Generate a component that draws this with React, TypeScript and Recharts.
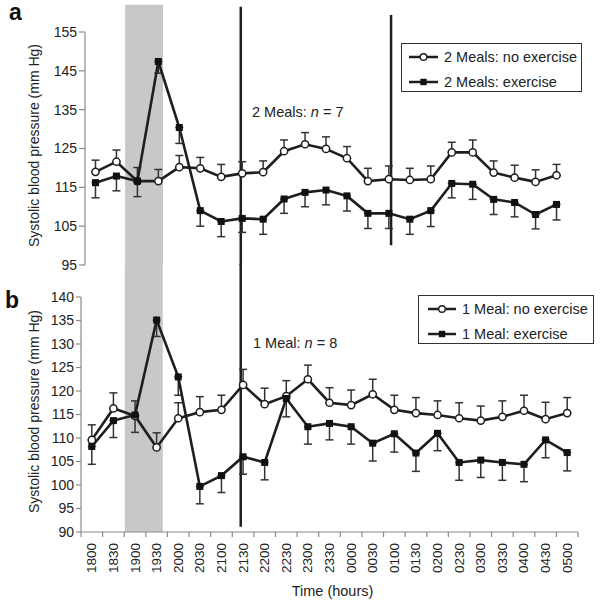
import React from 'react';
import {
  LineChart,
  Line,
  XAxis,
  YAxis,
  ErrorBar,
  ReferenceArea,
  ReferenceLine,
  Legend,
} from 'recharts';

const FONT = '"Liberation Sans", Arial, Helvetica, sans-serif';
const INK = '#1e1e1e';
const AXIS = '#8a8a8a';

const times = [
  '1800', '1830', '1900', '1930', '2000', '2030', '2100', '2130', '2200', '2230', '2300', '2330',
  '0000', '0030', '0100', '0130', '0200', '0230', '0300', '0330', '0400', '0430', '0500',
];

// Panel a: 2 meals
const twoMealsNoEx = [119.0, 121.6, 116.6, 116.6, 120.2, 119.9, 117.7, 118.6, 118.9, 124.3, 126.1, 124.9, 122.5, 116.6, 117.1, 116.9, 117.1, 124.0, 124.0, 118.8, 117.5, 116.4, 118.1];
const twoMealsNoExErr = [3.0, 3.0, 3.5, 3.0, 3.0, 2.8, 3.2, 3.0, 2.9, 2.9, 3.0, 3.1, 3.0, 3.3, 3.4, 3.0, 3.4, 2.6, 3.2, 3.0, 3.2, 3.1, 2.8];
const twoMealsEx = [116.2, 117.9, 116.6, 147.4, 130.4, 109.0, 106.2, 107.0, 106.8, 112.0, 113.7, 114.3, 112.8, 108.3, 108.3, 106.8, 109.0, 116.0, 115.8, 111.9, 111.1, 108.0, 110.6];
const twoMealsExErr = [3.9, 3.8, 4.0, 3.0, 4.1, 4.0, 3.9, 3.6, 3.9, 3.7, 3.7, 3.8, 3.9, 3.9, 3.9, 3.9, 4.1, 3.7, 3.9, 3.9, 3.7, 3.7, 4.0];

// Panel b: 1 meal
const oneMealNoEx = [109.6, 116.3, 114.7, 108.0, 114.2, 115.5, 116.0, 121.3, 117.2, 118.9, 122.5, 117.5, 117.0, 119.3, 116.0, 115.3, 114.9, 114.2, 113.7, 114.5, 115.8, 114.0, 115.3];
const oneMealNoExErr = [3.2, 3.3, 3.2, 3.1, 3.3, 3.3, 3.1, 3.3, 3.4, 3.3, 3.0, 3.2, 3.2, 3.2, 3.1, 3.3, 3.0, 3.3, 3.1, 3.4, 3.3, 3.6, 3.3];
const oneMealEx = [108.2, 113.7, 114.9, 135.1, 123.0, 99.7, 102.0, 106.0, 104.8, 118.4, 112.4, 113.1, 112.4, 108.9, 110.9, 106.8, 111.0, 104.8, 105.3, 104.8, 104.4, 109.6, 106.9];
const oneMealExErr = [3.8, 3.6, 3.7, 3.5, 3.9, 3.7, 3.6, 3.7, 3.7, 3.9, 3.7, 3.5, 3.7, 3.8, 3.9, 3.9, 3.7, 3.8, 3.7, 3.8, 3.7, 3.8, 3.9];

const topTicks = [95, 105, 115, 125, 135, 145, 155];
const bottomTicks = [90, 95, 100, 105, 110, 115, 120, 125, 130, 135, 140];

const topData = times.map((t, i) => ({
  time: t,
  noEx: twoMealsNoEx[i],
  noExErr: [0, twoMealsNoExErr[i]],
  ex: twoMealsEx[i],
  exErr: [twoMealsExErr[i], 0],
}));

const bottomData = times.map((t, i) => ({
  time: t,
  noEx: oneMealNoEx[i],
  noExErr: [0, oneMealNoExErr[i]],
  ex: oneMealEx[i],
  exErr: [oneMealExErr[i], 0],
}));

const squareDot = (p: any) => {
  if (p.cx == null || p.cy == null) return <g key={`sq-${p.index}`} />;
  return (
    <rect key={`sq-${p.index}`} x={p.cx - 3.5} y={p.cy - 3.5} width={7} height={7} fill="#111" />
  );
};

const circleDot = { r: 3.6, fill: '#fff', stroke: INK, strokeWidth: 1.5 };

const yLabel = (props: any) => {
  const vb = props.viewBox || { x: 0, y: 0, width: 0, height: 0 };
  const cx = vb.x + 34;
  const cy = vb.y + vb.height / 2 - 3;
  return (
    <text
      x={cx}
      y={cy}
      transform={`rotate(-90, ${cx}, ${cy})`}
      textAnchor="middle"
      dominantBaseline="central"
      fontFamily={FONT}
      fontSize={14}
      fill="#222"
    >
      Systolic blood pressure (mm Hg)
    </text>
  );
};

const xLabel = (props: any) => {
  const vb = props.viewBox || { x: 0, y: 0, width: 0, height: 0 };
  return (
    <text
      x={vb.x + vb.width / 2 + 3}
      y={vb.y + 59}
      textAnchor="middle"
      dominantBaseline="central"
      fontFamily={FONT}
      fontSize={14.5}
      fill="#222"
    >
      Time (hours)
    </text>
  );
};

const XTick = (props: any) => {
  const { x, y, payload, index, visibleTicksCount } = props;
  const off = payload && typeof payload.offset === 'number' ? payload.offset : 0;
  const ty = y + 11;
  return (
    <g>
      <line x1={x - off} x2={x - off} y1={y} y2={y + 5} stroke={AXIS} strokeWidth={1.2} />
      {index === visibleTicksCount - 1 ? (
        <line x1={x + off} x2={x + off} y1={y} y2={y + 5} stroke={AXIS} strokeWidth={1.2} />
      ) : null}
      <text
        x={x}
        y={ty}
        transform={`rotate(-90, ${x}, ${ty})`}
        textAnchor="end"
        dominantBaseline="central"
        fontFamily={FONT}
        fontSize={13.5}
        fill="#222"
      >
        {payload.value}
      </text>
    </g>
  );
};

const makeLegend = (iconLeft: number, iconWidth: number, gap: number) => (props: any) => {
  const items = [...(props.payload || [])].sort((a: any, b: any) =>
    (a.dataKey === 'noEx' ? 0 : 1) - (b.dataKey === 'noEx' ? 0 : 1),
  );
  return (
    <div
      style={{
        boxSizing: 'border-box',
        width: '100%',
        height: '100%',
        border: `1.5px solid #333`,
        background: '#fff',
        paddingLeft: iconLeft,
        paddingTop: 0,
      }}
    >
      {items.map((item: any, i: number) => (
        <div key={i} style={{ display: 'flex', alignItems: 'center', height: 25 }}>
          <svg width={iconWidth} height={10} style={{ display: 'block' }}>
            <line x1={0} x2={iconWidth} y1={5} y2={5} stroke={INK} strokeWidth={2.5} />
            {item.dataKey === 'noEx' ? (
              <circle cx={iconWidth / 2} cy={5} r={3.3} fill="#fff" stroke={INK} strokeWidth={1.4} />
            ) : (
              <rect x={iconWidth / 2 - 3.2} y={1.8} width={6.4} height={6.4} fill="#111" />
            )}
          </svg>
          <span
            style={{
              marginLeft: gap,
              fontFamily: FONT,
              fontSize: 14.5,
              color: '#222',
              whiteSpace: 'nowrap',
              lineHeight: '16px',
            }}
          >
            {item.value}
          </span>
        </div>
      ))}
    </div>
  );
};

const lineProps = {
  type: 'linear' as const,
  stroke: INK,
  strokeWidth: 2.6,
  isAnimationActive: false,
};

export default function App() {
  return (
    <div style={{ position: 'absolute', left: 0, top: 0, width: 600, height: 600, background: '#fff' }}>
      {/* Panel a */}
      <div style={{ position: 'absolute', left: 0, top: 0 }}>
        <LineChart width={600} height={600} data={topData} margin={{ top: 32, right: 33, bottom: 335, left: 0 }}>
          <XAxis dataKey="time" scale="band" hide />
          <XAxis xAxisId="num" type="number" domain={[0, 22]} allowDataOverflow hide />
          <YAxis
            domain={[95, 155]}
            ticks={topTicks}
            width={85}
            axisLine={{ stroke: AXIS, strokeWidth: 1.2 }}
            tickLine={{ stroke: AXIS, strokeWidth: 1.2 }}
            tickSize={6}
            tickMargin={2}
            tick={{ fill: '#222', fontSize: 14, fontFamily: FONT }}
            label={yLabel}
          />
          <ReferenceArea xAxisId="num" x1={1.83} x2={3.56} y1={95} y2={162} fill="#c8c8c8" fillOpacity={1} stroke="none" ifOverflow="visible" />
          <ReferenceLine xAxisId="num" segment={[{ x: 7.11, y: 161.5 }, { x: 7.11, y: 95 }]} stroke={INK} strokeWidth={2.5} ifOverflow="visible" />
          <ReferenceLine xAxisId="num" segment={[{ x: 13.97, y: 159.4 }, { x: 13.97, y: 100.1 }]} stroke={INK} strokeWidth={2.5} ifOverflow="visible" />
          <Line {...lineProps} dataKey="noEx" name="2 Meals: no exercise" dot={circleDot}>
            <ErrorBar dataKey="noExErr" direction="y" width={4} stroke="#333" strokeWidth={1.5} />
          </Line>
          <Line {...lineProps} dataKey="ex" name="2 Meals: exercise" dot={squareDot}>
            <ErrorBar dataKey="exErr" direction="y" width={4} stroke="#333" strokeWidth={1.5} />
          </Line>
          <Legend
            layout="vertical"
            align="center"
            verticalAlign="middle"
            content={makeLegend(7, 29, 6)}
            wrapperStyle={{ left: 401, top: 43, width: 181, height: 49 }}
          />
        </LineChart>
      </div>

      {/* Panel b */}
      <div style={{ position: 'absolute', left: 0, top: 0 }}>
        <LineChart width={600} height={600} data={bottomData} margin={{ top: 297, right: 22, bottom: 0, left: 0 }}>
          <XAxis
            dataKey="time"
            scale="band"
            height={68}
            interval={0}
            axisLine={{ stroke: AXIS, strokeWidth: 1.2 }}
            tickLine={false}
            tickSize={0}
            tickMargin={0}
            tick={<XTick />}
            label={xLabel}
          />
          <XAxis xAxisId="num" type="number" domain={[0, 22]} allowDataOverflow hide />
          <YAxis
            domain={[90, 140]}
            ticks={bottomTicks}
            width={81}
            interval={0}
            axisLine={{ stroke: AXIS, strokeWidth: 1.2 }}
            tickLine={{ stroke: AXIS, strokeWidth: 1.2 }}
            tickSize={5}
            tickMargin={2}
            tick={{ fill: '#222', fontSize: 14, fontFamily: FONT }}
            label={yLabel}
          />
          <ReferenceArea xAxisId="num" x1={1.94} x2={3.62} y1={90} y2={146.8} fill="#c8c8c8" fillOpacity={1} stroke="none" ifOverflow="visible" />
          <ReferenceLine xAxisId="num" segment={[{ x: 7.07, y: 147 }, { x: 7.07, y: 91.1 }]} stroke={INK} strokeWidth={2.5} ifOverflow="visible" />
          <Line {...lineProps} dataKey="noEx" name="1 Meal: no exercise" dot={circleDot}>
            <ErrorBar dataKey="noExErr" direction="y" width={4} stroke="#333" strokeWidth={1.5} />
          </Line>
          <Line {...lineProps} dataKey="ex" name="1 Meal: exercise" dot={squareDot}>
            <ErrorBar dataKey="exErr" direction="y" width={4} stroke="#333" strokeWidth={1.5} />
          </Line>
          <Legend
            layout="vertical"
            align="center"
            verticalAlign="middle"
            content={makeLegend(9, 28, 6)}
            wrapperStyle={{ left: 418, top: 295, width: 176, height: 49 }}
          />
        </LineChart>
      </div>

      {/* Panel letters and annotations */}
      <svg width={600} height={600} style={{ position: 'absolute', left: 0, top: 0, pointerEvents: 'none' }}>
        <text x={9} y={20} fontFamily={FONT} fontWeight="bold" fontSize={23} fill="#111">a</text>
        <text x={5} y={308} fontFamily={FONT} fontWeight="bold" fontSize={23} fill="#111">b</text>
        <text x={252} y={117} fontFamily={FONT} fontSize={14.5} fill="#222">
          2 Meals: <tspan fontStyle="italic">n</tspan> = 7
        </text>
        <text x={253} y={348} fontFamily={FONT} fontSize={14.5} fill="#222">
          1 Meal: <tspan fontStyle="italic">n</tspan> = 8
        </text>
      </svg>
    </div>
  );
}
